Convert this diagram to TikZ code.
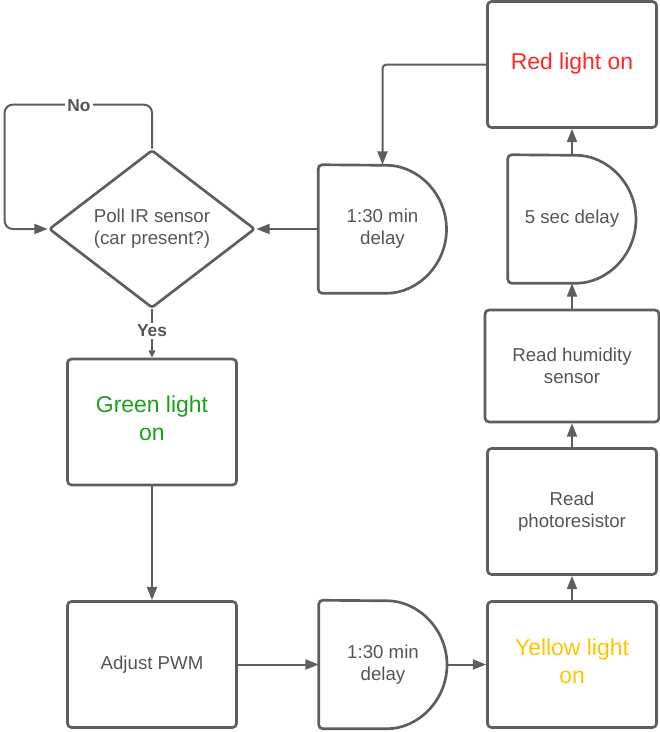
\documentclass[tikz,border=0pt]{standalone}
\usepackage{fontspec}
\setmainfont{Liberation Sans}
\usetikzlibrary{arrows.meta,shapes.geometric}
\definecolor{ln}{HTML}{5E5E5E}
\definecolor{tx}{HTML}{555555}
\definecolor{gr}{HTML}{1E9E1E}
\definecolor{rd}{HTML}{FF2626}
\definecolor{yl}{HTML}{FFC400}
\newcommand{\drawdelay}[1]{%
  \draw[ln, line width=2pt, rounded corners=3pt]
    (#1.south) arc[start angle=-90, end angle=90, x radius=48pt, y radius=48pt]
    -- (#1.north west) -- (#1.south west) -- cycle;}
\begin{document}
\begin{tikzpicture}[x=0.75pt, y=-0.75pt,
  every node/.style={text=tx, font=\fontsize{14}{16.3}\selectfont},
  procbox/.style={draw=ln, line width=2pt, rounded corners=3pt, align=center,
    inner sep=0pt, minimum width=126.75pt, minimum height=94.5pt},
  delaybox/.style={draw=none, align=center, inner sep=0pt,
    minimum width=96pt, minimum height=96pt},
  bigtext/.style={align=center, inner sep=0pt, font=\fontsize{17.2}{21}\selectfont},
  conn/.style={draw=ln, line width=1.5pt,
    -{Triangle[length=10pt, width=7.5pt]}},
  connsmall/.style={draw=ln, line width=1.5pt,
    -{Triangle[length=5.5pt, width=5pt]}},
  lbl/.style={fill=white, inner sep=1.5pt, font=\bfseries\fontsize{13}{15}\selectfont}]
\useasboundingbox (0,0) rectangle (660,732);

% nodes
\node[procbox] (red) at (572,64.5) {};
\node[bigtext, text=rd] (redt) at ([yshift=1pt]red.center) {Red light on};
\node[delaybox] (d5) at (572,219) {5 sec delay};
\drawdelay{d5}
\node[procbox, minimum width=130.5pt, minimum height=84pt] (hum) at (572,366) {Read humidity\\sensor};
\node[procbox] (photo) at (572,511.5) {Read\\photoresistor};
\node[procbox] (yellow) at (572,664.5) {};
\node[bigtext, text=yl] (yellowt) at ([yshift=2.5pt]yellow.center) {Yellow light\\on};
\node[delaybox] (dbot) at (383,664.5) {1:30 min\\delay};
\drawdelay{dbot}
\node[procbox] (pwm) at (152,664.5) {Adjust PWM};
\node[procbox] (green) at (152,422) {};
\node[bigtext, text=gr] (greent) at ([yshift=2.5pt]green.center) {Green light\\on};
\node[diamond, draw=ln, line width=2pt, rounded corners=2pt, align=center,
  inner sep=0pt, aspect=1.3, minimum width=154.5pt, minimum height=118.5pt]
  (poll) at (152,229) {Poll IR sensor\\(car present?)};
\node[delaybox] (dtop) at (382.5,229) {1:30 min\\delay};
\drawdelay{dtop}

% connectors
\draw[conn, rounded corners=6pt] (poll.north) -- ++(0,-44) -| ([xshift=-32.25pt]poll.west) -- (poll.west);
\node[lbl] (no) at (79,106) {No};
\draw[connsmall] (poll.south) -- (green.north);
\node[lbl] (yes) at (152,331) {Yes};
\draw[conn] (green.south) -- (pwm.north);
\draw[conn] (pwm.east) -- (dbot.west);
\draw[conn] (dbot.east) -- (yellow.west);
\draw[conn] (yellow.north) -- (photo.south);
\draw[conn] (photo.north) -- (hum.south);
\draw[conn] (hum.north) -- (d5.south);
\draw[conn] (d5.north) -- (red.south);
\draw[conn, rounded corners=3pt] (red.west) -| (dtop.north);
\draw[conn] (dtop.west) -- (poll.east);
\end{tikzpicture}
\end{document}
